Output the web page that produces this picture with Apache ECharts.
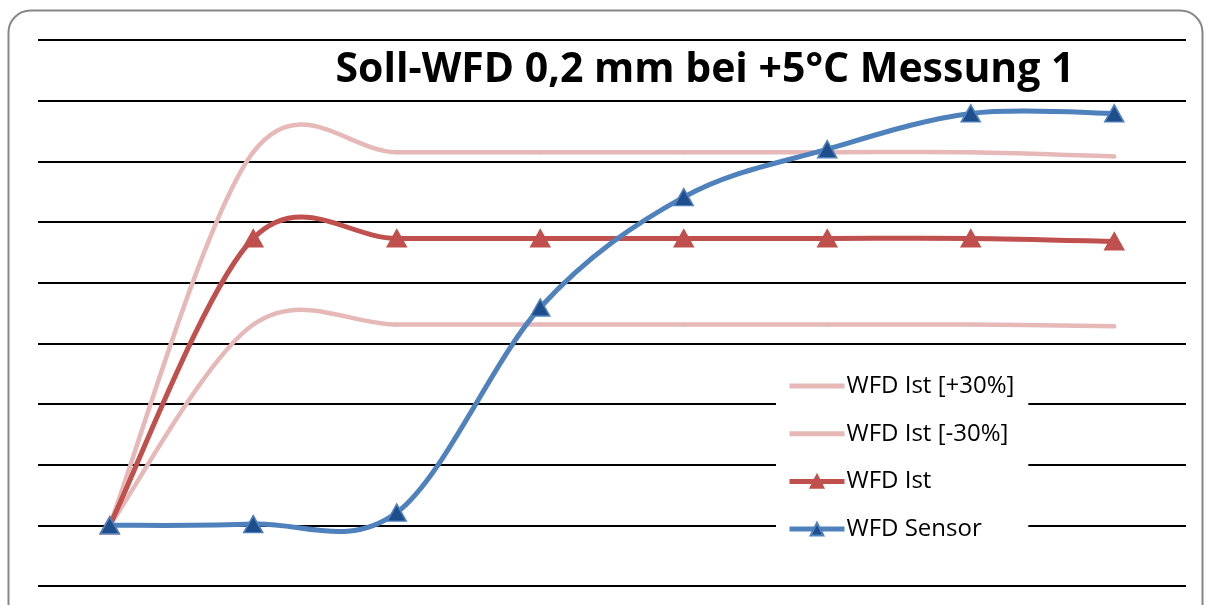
<!DOCTYPE html>
<html>
<head>
<meta charset="utf-8">
<script src="https://cdn.jsdelivr.net/npm/echarts@6/dist/echarts.min.js"></script>
<style>
html,body{margin:0;padding:0;background:#fff;}
#chart{width:1208px;height:605px;}
</style>
</head>
<body>
<div id="chart"></div>
<script>
const titleText = 'Soll-WFD 0,2 mm bei +5°C Messung 1';
const categories = ['1','2','3','4','5','6','7','8'];
const seriesNames = ['WFD Ist [+30%]','WFD Ist [-30%]','WFD Ist','WFD Sensor'];
const wfdIstPlus = [0, 6.15, 6.15, 6.15, 6.15, 6.15, 6.15, 6.08];
const wfdIstMinus = [0, 3.31, 3.31, 3.31, 3.31, 3.31, 3.31, 3.28];
const wfdIst = [0, 4.73, 4.73, 4.73, 4.73, 4.73, 4.73, 4.68];
const wfdSensor = [0, 0.02, 0.21, 3.59, 5.41, 6.2, 6.79, 6.79];

const PINK = '#E6B9B8', RED = '#C0504D', BLUE = '#4F81BD', DBLUE = '#1F4E8C';
const font = '"Open Sans", "Liberation Sans", sans-serif';

// Excel-like smoothed curve (Catmull-Rom -> Bezier), positions via the axes
function curveSeries(values, color, width) {
  return {
    type: 'custom', silent: true, clip: false, z: 2,
    data: values.map((v, i) => [i, v]),
    renderItem: function (params, api) {
      const i = params.dataIndex;
      const n = values.length;
      if (i >= n - 1) return null;
      const p = k => api.coord([Math.min(Math.max(k, 0), n - 1), values[Math.min(Math.max(k, 0), n - 1)]]);
      const p0 = p(i - 1), p1 = p(i), p2 = p(i + 1), p3 = p(i + 2);
      const t = 1 / 6;
      return {
        type: 'bezierCurve',
        shape: {
          x1: p1[0], y1: p1[1], x2: p2[0], y2: p2[1],
          cpx1: p1[0] + (p2[0] - p0[0]) * t, cpy1: p1[1] + (p2[1] - p0[1]) * t,
          cpx2: p2[0] - (p3[0] - p1[0]) * t, cpy2: p2[1] - (p3[1] - p1[1]) * t
        },
        style: {stroke: color, lineWidth: width, fill: null, lineCap: 'round'}
      };
    }
  };
}

function markerSeries(name, values, lineColor, fill, border, withSymbol) {
  return {
    name: name, type: 'line', data: values, z: 3,
    symbol: withSymbol ? 'triangle' : 'none', showSymbol: withSymbol,
    symbolSize: [19, 17],
    lineStyle: {color: lineColor, width: 5, opacity: 0},
    itemStyle: {color: fill, borderColor: border, borderWidth: 1.5}
  };
}

const chart = echarts.init(document.getElementById('chart'));
chart.setOption({
  animation: false,
  backgroundColor: '#ffffff',
  title: {
    text: titleText,
    left: 700, top: 45, textAlign: 'center',
    textStyle: {fontFamily: font, fontWeight: 'bold', fontSize: 41, lineHeight: 41, color: '#000'}
  },
  graphic: [{
    type: 'rect', z: -10, silent: true,
    shape: {x: 8.5, y: 10.5, width: 1194, height: 620, r: 22},
    style: {fill: 'none', stroke: '#878787', lineWidth: 2}
  }],
  legend: {
    orient: 'vertical',
    left: 776, top: 361,
    itemWidth: 55, itemHeight: 16, itemGap: 23.7,
    padding: [13, 14, 11, 11],
    backgroundColor: '#ffffff',
    textStyle: {fontFamily: font, fontSize: 24, lineHeight: 24, color: '#000', padding: [0, 0, 0, -3]},
    data: [
      {name: seriesNames[0], itemStyle: {opacity: 0}, lineStyle: {color: PINK, width: 5, opacity: 1}},
      {name: seriesNames[1], itemStyle: {opacity: 0}, lineStyle: {color: PINK, width: 5, opacity: 1}},
      {name: seriesNames[2], lineStyle: {color: RED, width: 5, opacity: 1}},
      {name: seriesNames[3], lineStyle: {color: BLUE, width: 5, opacity: 1}}
    ]
  },
  grid: {left: 38, right: 22, top: 40, bottom: 19},
  xAxis: {
    type: 'category', data: categories, boundaryGap: true,
    axisLine: {show: false}, axisTick: {show: false}, axisLabel: {show: false}
  },
  yAxis: {
    type: 'value', min: -1, max: 8, interval: 1,
    axisLine: {show: false}, axisTick: {show: false}, axisLabel: {show: false},
    splitLine: {show: true, lineStyle: {color: '#000', width: 2}}
  },
  series: [
    curveSeries(wfdIstPlus, PINK, 4.5),
    curveSeries(wfdIstMinus, PINK, 4.5),
    curveSeries(wfdIst, RED, 5),
    curveSeries(wfdSensor, BLUE, 5),
    markerSeries(seriesNames[0], wfdIstPlus, PINK, PINK, PINK, false),
    markerSeries(seriesNames[1], wfdIstMinus, PINK, PINK, PINK, false),
    markerSeries(seriesNames[2], wfdIst, RED, RED, RED, true),
    markerSeries(seriesNames[3], wfdSensor, BLUE, DBLUE, BLUE, true)
  ]
});
</script>
</body>
</html>
